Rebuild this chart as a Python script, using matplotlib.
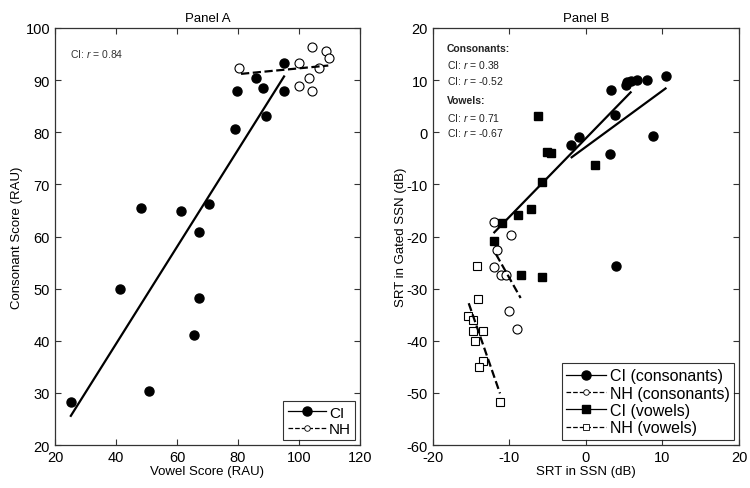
import matplotlib
matplotlib.use('Agg')
import matplotlib.pyplot as plt
from matplotlib.lines import Line2D

plt.rcParams['font.family'] = ['Liberation Sans', 'DejaVu Sans']
plt.rcParams['mathtext.fontset'] = 'custom'
plt.rcParams['mathtext.it'] = 'Liberation Sans:italic'
plt.rcParams['mathtext.rm'] = 'Liberation Sans'
plt.rcParams['axes.unicode_minus'] = False

# --- Panel A data ---
a_ci_vowel = [95.1, 85.8, 79.6, 88.2, 95.1, 89.2, 78.9, 70.4, 61.2, 48.2, 67.3,
              41.4, 67.3, 65.6, 50.7, 25.2]
a_ci_cons = [93.3, 90.4, 88.0, 88.5, 88.0, 83.1, 80.6, 66.2, 64.8, 65.5, 60.8,
             50.0, 48.2, 41.2, 30.3, 28.2]
a_nh_vowel = [80.2, 99.9, 104.2, 108.7, 109.9, 106.6, 103.2, 99.9, 104.4]
a_nh_cons = [92.3, 93.3, 96.4, 95.5, 94.2, 92.3, 90.5, 88.8, 88.0]
a_ci_fit_x = [25.2, 95.1]
a_ci_fit_y = [25.6, 90.7]
a_nh_fit_x = [81.0, 109.6]
a_nh_fit_y = [91.2, 92.8]

# --- Panel B data ---
b_ci_cons_x = [10.46, 7.97, 6.67, 5.88, 5.32, 5.19, 3.31, 3.75, -0.87, -1.92,
               3.18, 8.8, 3.88]
b_ci_cons_y = [10.85, 10.0, 10.0, 9.8, 9.7, 9.1, 8.1, 3.25, -0.9, -2.4,
               -4.1, -0.8, -25.6]
b_nh_cons_x = [-11.98, -9.84, -11.67, -12.07, -11.1, -10.46, -10.07, -9.0]
b_nh_cons_y = [-17.3, -19.8, -22.5, -25.9, -27.4, -27.4, -34.2, -37.7]
b_ci_vow_x = [-6.23, -5.05, -4.58, 1.18, -5.71, -7.19, -8.93, -10.94, -11.98,
              -8.5, -5.71]
b_ci_vow_y = [3.06, -3.8, -3.9, -6.35, -9.5, -14.7, -15.9, -17.35, -20.8,
              -27.4, -27.8]
b_nh_vow_x = [-14.29, -14.12, -15.47, -14.82, -14.82, -13.42, -14.47, -13.42,
              -13.95, -11.24]
b_nh_vow_y = [-25.6, -31.9, -35.2, -36.0, -38.2, -38.2, -40.1, -43.8, -45.0,
              -51.7]
b_ci_cons_fit_x = [-1.87, 10.4]
b_ci_cons_fit_y = [-4.8, 8.4]
b_nh_cons_fit_x = [-11.76, -8.54]
b_nh_cons_fit_y = [-23.4, -31.8]
b_ci_vow_fit_x = [-11.98, 5.84]
b_ci_vow_fit_y = [-19.2, 7.66]
b_nh_vow_fit_x = [-15.33, -11.24]
b_nh_vow_fit_y = [-32.8, -50.1]

fig = plt.figure(figsize=(7.5, 4.89), dpi=100, facecolor='white')
ax1 = fig.add_axes([0.0733, 0.0879, 0.4067, 0.8528])
ax2 = fig.add_axes([0.5773, 0.0879, 0.408, 0.8528])

fs = 9.5
ms = 6.5

def style_axes(ax):
    ax.tick_params(direction='in', top=True, right=True, length=4,
                   labelsize=10.5, color='#333333')
    for s in ax.spines.values():
        s.set_color('#333333')
        s.set_linewidth(0.9)

# --- Panel A ---
ax1.plot(a_ci_vowel, a_ci_cons, 'o', color='black', ms=ms, ls='none')
ax1.plot(a_nh_vowel, a_nh_cons, 'o', mfc='white', mec='black', mew=0.8,
         ms=ms, ls='none')
ax1.plot(a_ci_fit_x, a_ci_fit_y, '-', color='black', lw=1.6)
ax1.plot(a_nh_fit_x, a_nh_fit_y, '--', color='black', lw=1.6)
ax1.set_xlim(20, 120)
ax1.set_ylim(20, 100)
ax1.set_xticks(range(20, 121, 20))
ax1.set_yticks(range(20, 101, 10))
ax1.set_xlabel('Vowel Score (RAU)', fontsize=fs, labelpad=1)
ax1.set_ylabel('Consonant Score (RAU)', fontsize=fs, labelpad=2)
ax1.set_title('Panel A', fontsize=fs, pad=5)
ax1.text(0.05, 0.94, r'CI: $r$ = 0.84', transform=ax1.transAxes,
         fontsize=7.5, va='center', ha='left', color='#333333')
style_axes(ax1)

h1 = [Line2D([], [], color='black', ls='-', lw=0.9, marker='o', ms=ms),
      Line2D([], [], color='black', ls='--', lw=0.9, marker='o', ms=4,
             mfc='white', mew=0.6)]
leg1 = ax1.legend(h1, ['CI', 'NH'], loc='lower right', fontsize=11,
                  frameon=True, fancybox=False, edgecolor='black',
                  borderaxespad=0.3, handlelength=2.5, handletextpad=0.2,
                  borderpad=0.3, labelspacing=0.15)
leg1.get_frame().set_linewidth(0.8)

# --- Panel B ---
ax2.plot(b_ci_cons_x, b_ci_cons_y, 'o', color='black', ms=ms, ls='none')
ax2.plot(b_nh_cons_x, b_nh_cons_y, 'o', mfc='white', mec='black', mew=0.8,
         ms=ms, ls='none')
ax2.plot(b_ci_vow_x, b_ci_vow_y, 's', color='black', ms=ms - 0.5, ls='none')
ax2.plot(b_nh_vow_x, b_nh_vow_y, 's', mfc='white', mec='black', mew=0.8,
         ms=ms - 0.5, ls='none')
ax2.plot(b_ci_cons_fit_x, b_ci_cons_fit_y, '-', color='black', lw=1.6)
ax2.plot(b_nh_cons_fit_x, b_nh_cons_fit_y, '--', color='black', lw=1.6)
ax2.plot(b_ci_vow_fit_x, b_ci_vow_fit_y, '-', color='black', lw=1.6)
ax2.plot(b_nh_vow_fit_x, b_nh_vow_fit_y, '--', color='black', lw=1.6)
ax2.set_xlim(-20, 20)
ax2.set_ylim(-60, 20)
ax2.set_xticks(range(-20, 21, 10))
ax2.set_yticks(range(-60, 21, 10))
ax2.set_xlabel('SRT in SSN (dB)', fontsize=fs, labelpad=1)
ax2.set_ylabel('SRT in Gated SSN (dB)', fontsize=fs, labelpad=0)
ax2.set_title('Panel B', fontsize=fs, pad=5)

notes = [('Consonants:', True, 49.3), (r'CI: $r$ = 0.38', False, 65.0),
         (r'CI: $r$ = -0.52', False, 80.7), ('Vowels:', True, 101.0),
         (r'CI: $r$ = 0.71', False, 117.7), (r'CI: $r$ = -0.67', False, 132.7)]
for txt, bold, ypx in notes:
    ax2.text(447, 489 - ypx, txt, transform=None, fontsize=7.5,
             fontweight='bold' if bold else 'normal', va='center', ha='left',
             color='#222222')
style_axes(ax2)

h2 = [Line2D([], [], color='black', ls='-', lw=0.9, marker='o', ms=ms),
      Line2D([], [], color='black', ls='--', lw=0.9, marker='o', ms=4,
             mfc='white', mew=0.6),
      Line2D([], [], color='black', ls='-', lw=0.9, marker='s', ms=ms - 0.5),
      Line2D([], [], color='black', ls='--', lw=0.9, marker='s', ms=4,
             mfc='white', mew=0.6)]
leg2 = ax2.legend(h2, ['CI (consonants)', 'NH (consonants)', 'CI (vowels)',
                       'NH (vowels)'], loc='lower right', fontsize=11.5,
                  frameon=True, fancybox=False, edgecolor='black',
                  borderaxespad=0.3, handlelength=2.5, handletextpad=0.2,
                  borderpad=0.3, labelspacing=0.15)
leg2.get_frame().set_linewidth(0.8)

plt.savefig('out.png', dpi=100)
